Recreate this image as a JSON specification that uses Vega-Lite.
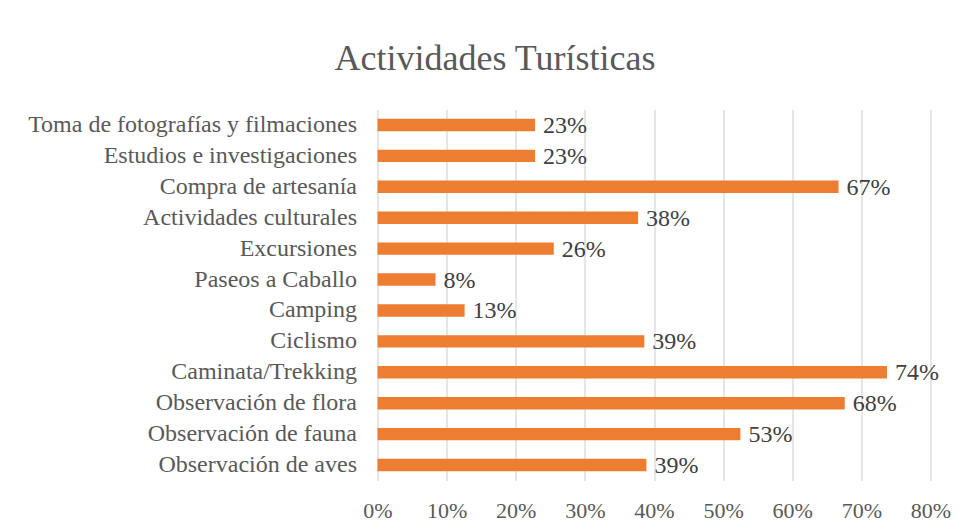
{
  "$schema": "https://vega.github.io/schema/vega-lite/v6.json",
  "autosize": {"type": "none"},
  "width": 553,
  "height": 371,
  "padding": {"left": 377.5, "top": 109.5, "right": 32.5, "bottom": 51.5},
  "background": "white",
  "title": {
    "text": "Actividades Turísticas",
    "font": "Liberation Serif",
    "fontSize": 36,
    "fontWeight": "normal",
    "color": "#595959",
    "anchor": "middle",
    "frame": "group",
    "dx": -159,
    "baseline": "alphabetic",
    "offset": 4
  },
  "data": {
    "values": [
      {"actividad": "Toma de fotografías y filmaciones", "pct": 0.228},
      {"actividad": "Estudios e investigaciones", "pct": 0.228},
      {"actividad": "Compra de artesanía", "pct": 0.667},
      {"actividad": "Actividades culturales", "pct": 0.377},
      {"actividad": "Excursiones", "pct": 0.255},
      {"actividad": "Paseos a Caballo", "pct": 0.084},
      {"actividad": "Camping", "pct": 0.126},
      {"actividad": "Ciclismo", "pct": 0.386},
      {"actividad": "Caminata/Trekking", "pct": 0.737},
      {"actividad": "Observación de flora", "pct": 0.676},
      {"actividad": "Observación de fauna", "pct": 0.525},
      {"actividad": "Observación de aves", "pct": 0.389}
    ]
  },
  "encoding": {
    "y": {
      "field": "actividad",
      "type": "nominal",
      "sort": null,
      "scale": {"paddingInner": 0.6, "paddingOuter": 0.3},
      "axis": {
        "title": null,
        "domain": false,
        "ticks": false,
        "labelPadding": 21,
        "labelFont": "Liberation Serif",
        "labelFontSize": 24,
        "labelColor": "#595959",
        "labelLimit": 400
      }
    },
    "x": {
      "field": "pct",
      "type": "quantitative",
      "scale": {"domain": [0, 0.8], "nice": false},
      "axis": {
        "title": null,
        "format": ".0%",
        "values": [0, 0.1, 0.2, 0.3, 0.4, 0.5, 0.6, 0.7, 0.8],
        "domain": false,
        "ticks": false,
        "labelFlush": false,
        "labelPadding": 20,
        "labelFont": "Liberation Serif",
        "labelFontSize": 22,
        "labelColor": "#595959",
        "grid": true,
        "gridColor": "#d9d9d9",
        "gridWidth": 1.3
      }
    }
  },
  "layer": [
    {"mark": {"type": "bar", "color": "#ED7D31"}},
    {
      "mark": {
        "type": "text",
        "align": "left",
        "baseline": "middle",
        "dx": 8,
        "dy": 1,
        "font": "Liberation Serif",
        "fontSize": 24,
        "color": "#404040"
      },
      "encoding": {"text": {"field": "pct", "type": "quantitative", "format": ".0%"}}
    }
  ],
  "config": {"view": {"stroke": null}}
}
